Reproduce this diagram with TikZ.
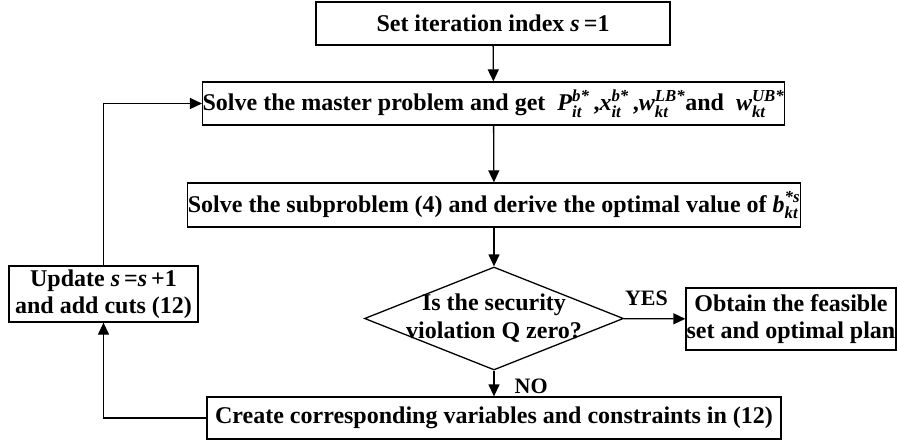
\documentclass[tikz,border=0pt]{standalone}
\usepackage{amsmath}
\usepackage{fontspec}
\setmainfont{Liberation Serif}
\usetikzlibrary{arrows.meta,shapes.geometric}
\newcommand\sym[3]{$\textit{#1}^{\text{\textit{#2}}}_{\text{\textit{#3}}}$}

\begin{document}
\begin{tikzpicture}[x=1pt,y=-1pt,
  box/.style={draw,line width=1.3pt,inner sep=0pt,align=center,font=\bfseries\fontsize{24}{27}\selectfont},
  decision/.style={draw,diamond,line width=1.3pt,inner sep=0pt,minimum width=259pt,minimum height=103pt},
  flow/.style={line width=1.3pt,-{Triangle[length=12pt,width=11pt]}},
  tag/.style={font=\bfseries\fontsize{22}{24}\selectfont,inner sep=0pt}]
\useasboundingbox (0,0) rectangle (898,442);
% boxes
\node[box,minimum width=354pt,minimum height=43pt] (set) at (493,23.5) {Set iteration index \textit{s}\,=1};
\node[box,minimum width=559pt,minimum height=43pt] (master) at (493.5,103.5)
  {Solve the master problem and get \ \sym{P}{b*}{it}\,,\sym{x}{b*}{it}\,,\sym{w}{LB*}{kt}and \ \sym{w}{UB*}{kt}};
\node[box,minimum width=604pt,minimum height=44pt] (sub) at (494,205)
  {Solve the subproblem (4) and derive the optimal value of \sym{b}{*s}{kt}};
\node[decision,label={[align=center,font=\bfseries\fontsize{24}{28}\selectfont]center:Is the security\\violation Q zero?}] (check) at (494,318.5) {};
\node[box,minimum width=210pt,minimum height=62pt] (obtain) at (791,319) {Obtain the feasible\\set and optimal plan};
\node[box,minimum width=189pt,minimum height=56pt] (update) at (103.5,294) {Update \textit{s}\,=\textit{s}\,+1\\and add cuts (12)};
\node[box,minimum width=574pt,minimum height=42pt] (create) at (494,418) {Create corresponding variables and constraints in (12)};
% connectors
\draw[flow] (set) -- (master);
\draw[flow] (master) -- (sub);
\draw[flow] (sub) -- (check);
\draw[flow] (check) -- node[tag,above=12pt,pos=0.37]{YES} (obtain);
\draw[flow] (check) -- node[tag,right=20pt,pos=0.6]{NO} (create);
\draw[flow] (create.west) -| (update.south);
\draw[flow] (update.north) |- (master.west);
\end{tikzpicture}
\end{document}
